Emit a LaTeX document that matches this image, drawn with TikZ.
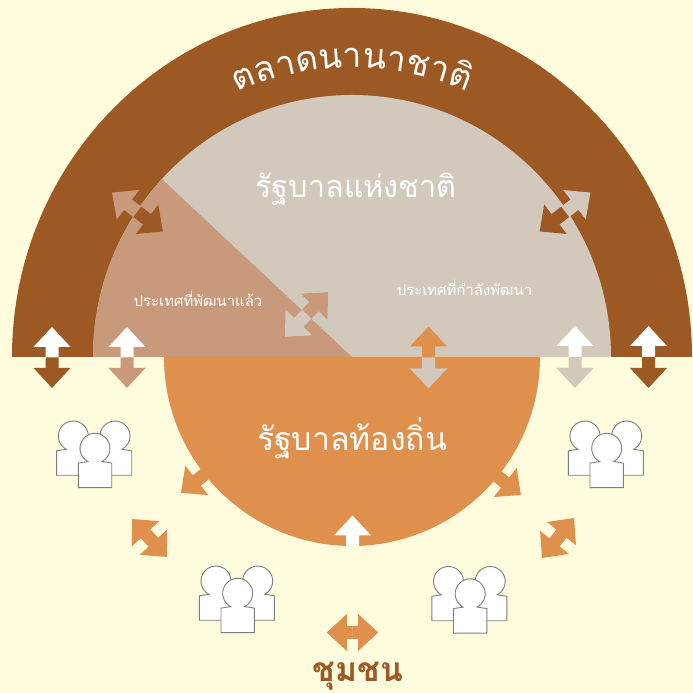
\documentclass[tikz,border=0pt]{standalone}
\usepackage{fontspec}
\newfontfamily\thaifont[Script=Thai]{Loma}
\usetikzlibrary{decorations.text}
\definecolor{bgc}{HTML}{FFFBDD}
\definecolor{brownc}{HTML}{9C5923}
\definecolor{pinkc}{HTML}{C8997B}
\definecolor{lightc}{HTML}{D3C8BC}
\definecolor{orangec}{HTML}{DF904C}
\definecolor{linec}{HTML}{7F7F7F}
\tikzset{
  person/.style={draw=linec,fill=white,line width=0.9pt},
  bigtext/.style={text=white,font=\thaifont\fontsize{30.6}{36}\selectfont,anchor=base,inner sep=0pt},
  localtext/.style={text=white,font=\thaifont\fontsize{32}{36}\selectfont,anchor=base,inner sep=0pt},
  smalltext/.style={text=white,font=\thaifont\fontsize{14.9}{16}\selectfont,anchor=base,inner sep=0pt},
}
% centre x, centre y, clockwise rotation, half length, colour of head, colour of tail
\newcommand\dblarrow[6]{%
  \begin{scope}[shift={(#1,#2)},rotate=#3]
    \fill[#5] (0,-#4) -- (18.5,-#4+20) -- (6.5,-#4+20) -- (6.5,0) -- (-6.5,0) -- (-6.5,-#4+20) -- (-18.5,-#4+20) -- cycle;
    \fill[#6] (0,#4) -- (18.5,#4-20) -- (6.5,#4-20) -- (6.5,-0.2) -- (-6.5,-0.2) -- (-6.5,#4-20) -- (-18.5,#4-20) -- cycle;
  \end{scope}}
\newcommand\oneperson[2]{%
  \draw[person,shift={(#1,#2)}] (-16.7,39.3) -- (-16.7,14.8) -- (-7,13.3) arc[start angle=117.8,end angle=422.2,radius=15] -- (16.7,14.8) -- (16.7,39.3) -- cycle;}
\newcommand\personsgroup[2]{%
  \oneperson{#1}{#2}
  \oneperson{#1+41.7}{#2}
  \oneperson{#1+21.7}{#2+12.3}}
\begin{document}
\begin{tikzpicture}[x=1pt,y=1pt]
\useasboundingbox (0,0) rectangle (693,693);
\fill[bgc] (0,0) rectangle (693,693);
\begin{scope}[yscale=-1,yshift=-693pt]
  % nested half discs
  \fill[brownc] (12,357) arc[start angle=180,end angle=360,x radius=340,y radius=349] -- cycle;
  \fill[lightc] (93,357) arc[start angle=180,end angle=360,x radius=259,y radius=262] -- cycle;
  \begin{scope}
    \clip (93,357) arc[start angle=180,end angle=360,x radius=259,y radius=262] -- cycle;
    \fill[pinkc] (352,357) -- (150,168) -- (60,168) -- (60,357) -- cycle;
  \end{scope}
  \fill[orangec] (164,357) arc[start angle=180,end angle=0,x radius=188,y radius=189] -- cycle;
  % arrows on the base line
  \dblarrow{52}{357.5}{0}{30.5}{white}{brownc}
  \dblarrow{127}{357.5}{0}{30.5}{white}{pinkc}
  \dblarrow{428.5}{357.5}{0}{31}{orangec}{lightc}
  \dblarrow{575}{357}{0}{31}{white}{lightc}
  \dblarrow{648.5}{357}{0}{31}{white}{brownc}
  % diagonal arrows
  \dblarrow{137.5}{212}{-52.6}{32}{pinkc}{brownc}
  \dblarrow{565}{212}{52.6}{32}{lightc}{brownc}
  \dblarrow{306.5}{314.5}{44}{31}{pinkc}{lightc}
  % arrows at the rim of the local half disc
  \dblarrow{205}{474}{52}{30.5}{orangec}{orangec}
  \dblarrow{497}{476}{-51.5}{30.5}{orangec}{orangec}
  \dblarrow{352.5}{546}{0}{30.5}{white}{bgc}
  % community arrows
  \dblarrow{149.5}{538}{-42.6}{25.8}{orangec}{orangec}
  \dblarrow{558}{538}{38.7}{25.6}{orangec}{orangec}
  \dblarrow{352.5}{632.5}{-90}{25.7}{orangec}{orangec}
  % people
  \personsgroup{73.3}{436}
  \personsgroup{585}{436}
  \personsgroup{216}{581}
  \personsgroup{448.5}{581.5}
  % labels
  \node[bigtext] (national) at (356,198) {รัฐบาลแห่งชาติ};
  \node[localtext] (local) at (352,451) {รัฐบาลท้องถิ่น};
  \node[smalltext] (developed) at (198,307) {ประเทศที่พัฒนาแล้ว};
  \node[smalltext] (developing) at (464.5,296) {ประเทศที่กำลังพัฒนา};
  \node[bigtext,text=brownc,font=\thaifont\bfseries\fontsize{33.5}{36}\selectfont] (community) at (358,681) {ชุมชน};
\end{scope}
% curved title (y measured upward here)
\path[decorate,decoration={text along path,text align=center,
   text={|\thaifont\fontsize{34.5}{42}\selectfont\color{white}|ตลาดนานาชา{ติ}}}]
   (352,328) ++(150:297) arc[start angle=150,end angle=30,radius=297];
\end{tikzpicture}
\end{document}
